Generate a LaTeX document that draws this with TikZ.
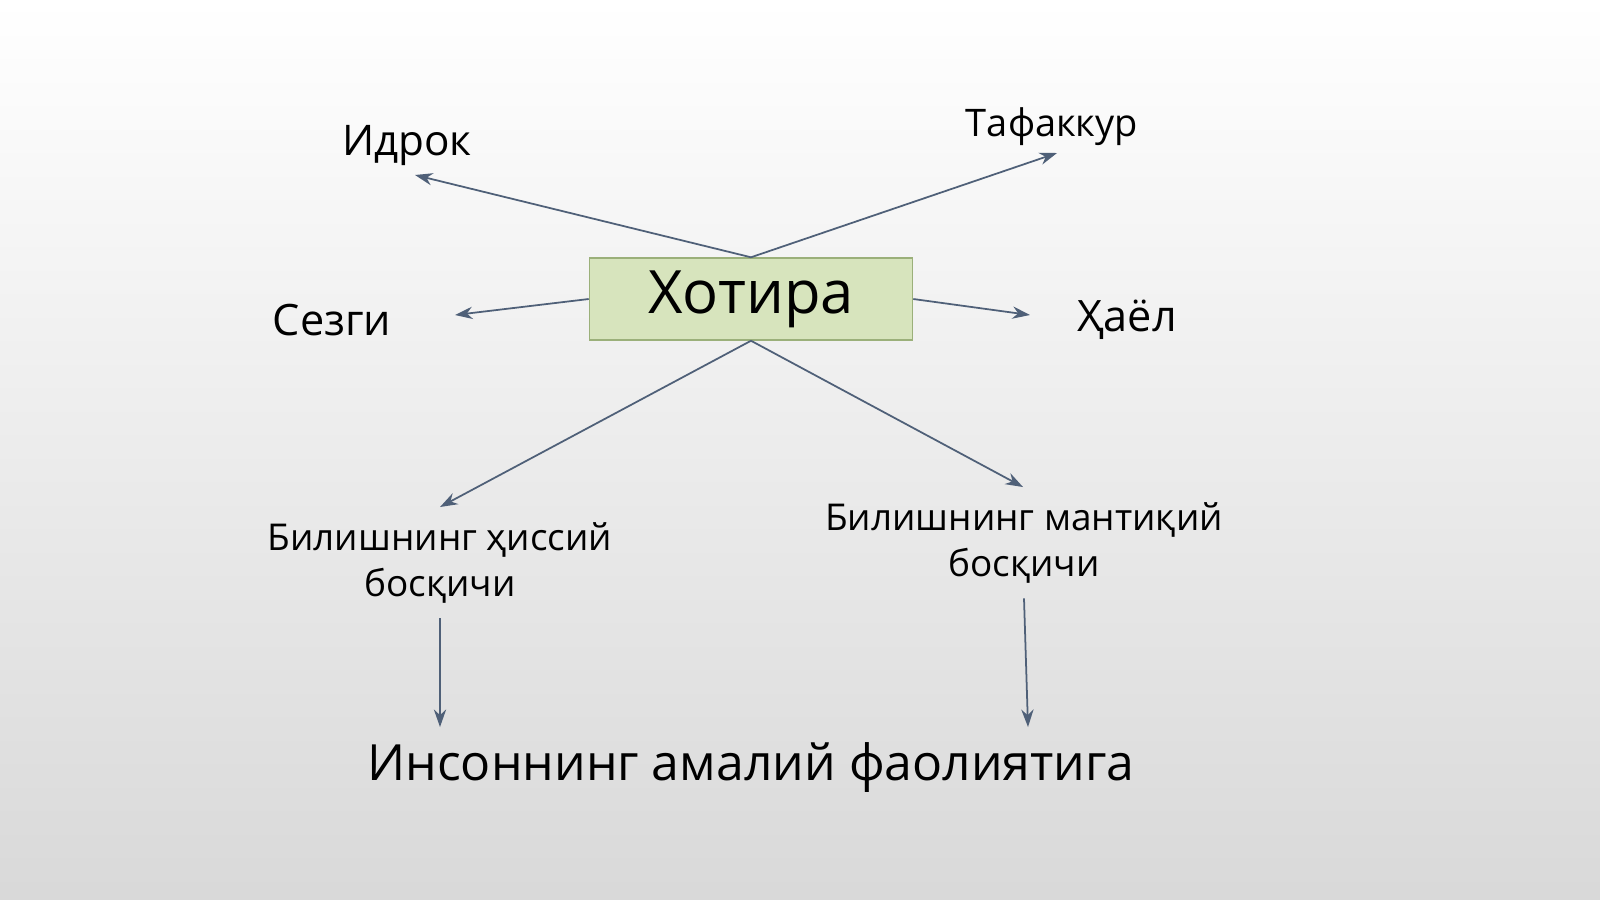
\documentclass[tikz,border=0pt]{standalone}
\usepackage{fontspec}
\setmainfont{Open Sans}
\usetikzlibrary{positioning,arrows.meta}
\tikzset{>={Stealth[length=5pt,width=3.5pt]}}
\definecolor{boxfill}{HTML}{D7E4BD}
\definecolor{boxline}{HTML}{9BB07A}
\definecolor{linkcol}{HTML}{4F6078}
\tikzset{
  link/.style={->, linkcol, line width=0.5pt},
  word/.style={inner sep=0pt, text=black, align=center}
}
\begin{document}
\begin{tikzpicture}[x=0.01cm,y=-0.01cm]
\shade[top color=white, bottom color=gray!30] (0,0) rectangle (1600,899);
\useasboundingbox (0,0) rectangle (1600,899);
%% centre
\node[draw=boxline, fill=boxfill, minimum width=3.23cm, minimum height=0.82cm,
      font=\fontsize{17}{20}\selectfont] (hot) at (751,299) {Хотира};
%% outer words
\node[word, font=\fontsize{12}{15}\selectfont] (idr) at (407,145) {Идрок};
\node[word, font=\fontsize{10.8}{13}\selectfont] (taf) at (1052,127) {Тафаккур};
\node[word, font=\fontsize{12.3}{15}\selectfont] (sez) at (332,320) {Сезги};
\node[word, font=\fontsize{12.3}{15}\selectfont] (hay) at (1127,320) {Ҳаёл};
\node[word, font=\fontsize{10.5}{13.2}\selectfont] (his) at (440,563) {Билишнинг ҳиссий\\босқичи};
\node[word, font=\fontsize{10.5}{13.2}\selectfont] (man) at (1024,543) {Билишнинг мантиқий\\босқичи};
\node[word, font=\fontsize{14.2}{17}\selectfont] (ins) at (751,768) {Инсоннинг амалий фаолиятига};
%% arrow ends
\coordinate (e1) at (415,175);
\coordinate (e2) at (1057,153);
\coordinate (e3) at (455,315);
\coordinate (e4) at (1030,315);
\coordinate (e5) at (440,507);
\coordinate (e6) at (1023,487);
\coordinate (e7) at (440,727);
\coordinate (e8) at (1028,727);
%% links
\draw[link] (hot.north) -- (e1);
\draw[link] (hot.north) -- (e2);
\draw[link] (hot.west) -- (e3);
\draw[link] (hot.east) -- (e4);
\draw[link] (hot.south) -- (e5);
\draw[link] (hot.south) -- (e6);
\draw[link] ([yshift=-4pt]his.south) -- (e7);
\draw[link] ([yshift=-4pt]man.south) -- (e8);
\end{tikzpicture}
\end{document}
